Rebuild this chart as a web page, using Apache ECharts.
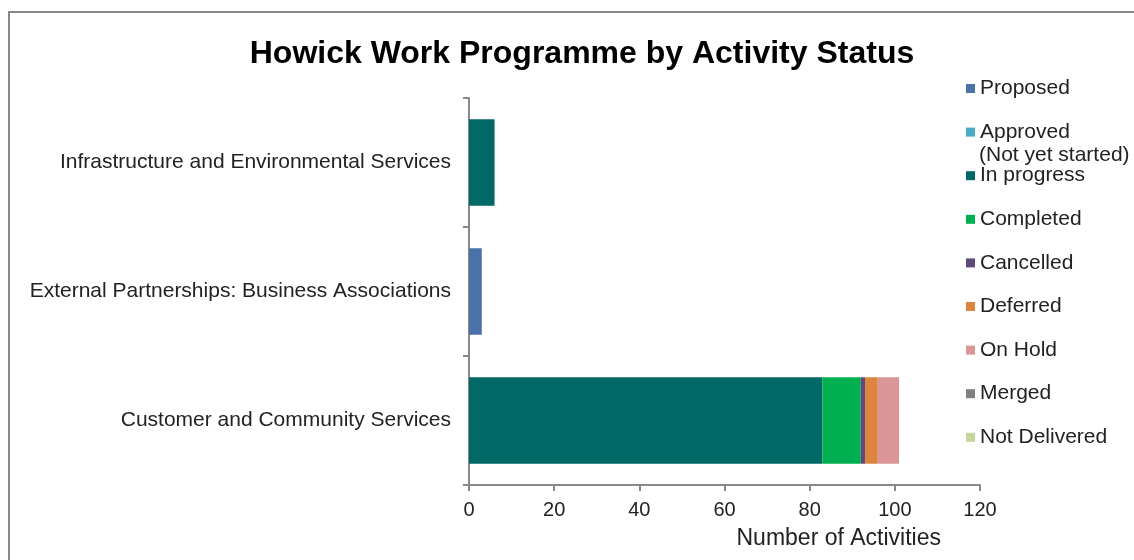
<!DOCTYPE html>
<html>
<head>
<meta charset="utf-8">
<script src="https://cdn.jsdelivr.net/npm/echarts@6/dist/echarts.min.js"></script>
<style>
  html, body { margin: 0; padding: 0; background: #fff; }
  #main { width: 1134px; height: 560px; }
</style>
</head>
<body>
<div id="main"></div>
<script>
// categories, bottom to top (ECharts draws the first category at the bottom)
var categories = [
  'Customer and Community Services',
  'External Partnerships: Business Associations',
  'Infrastructure and Environmental Services'
];

var statusNames = [
  'Proposed', 'Approved (Not yet started)', 'In progress', 'Completed',
  'Cancelled', 'Deferred', 'On Hold', 'Merged', 'Not Delivered'
];
var statusColors = [
  '#4a72a8', '#4bacc6', '#006865', '#00b050',
  '#604a7b', '#dd8440', '#da9694', '#808080', '#c3d69b'
];

var proposed = [0, 3, 0];
var approved = [0, 0, 0];
var inProgress = [83, 0, 6];
var completed = [9, 0, 0];
var cancelled = [1, 0, 0];
var deferred = [3, 0, 0];
var onHold = [5, 0, 0];
var merged = [0, 0, 0];
var notDelivered = [0, 0, 0];

var xTicks = [0, 20, 40, 60, 80, 100, 120];

var values = [proposed, approved, inProgress, completed, cancelled, deferred, onHold, merged, notDelivered];

var chartDom = document.getElementById('main');
var myChart = echarts.init(chartDom);
var option;

var fontFam = 'Liberation Sans, Arial, sans-serif';

// one legend per entry so the two-line "Approved" entry keeps the even spacing
var legends = statusNames.map(function (name, i) {
  return {
    data: [name],
    orient: 'vertical',
    left: 966,
    top: 78 + i * 43.6,
    padding: 0,
    itemWidth: 9,
    itemHeight: 9,
    itemGap: 0,
    icon: 'rect',
    selectedMode: false,
    formatter: function (n) { return n === 'Approved (Not yet started)' ? 'Approved' : n; },
    textStyle: { fontFamily: fontFam, fontSize: 21, color: '#222' }
  };
});

option = {
  animation: false,
  title: {
    text: 'Howick Work Programme by Activity Status',
    left: 577,
    textAlign: 'center',
    top: 33,
    textStyle: { fontFamily: fontFam, fontSize: 32, fontWeight: 'bold', color: '#000' }
  },
  legend: legends,
  graphic: [
    {
      type: 'rect',
      shape: { x: 9, y: 12, width: 1140, height: 560 },
      style: { fill: 'none', stroke: '#888', lineWidth: 2 },
      silent: true
    },
    {
      type: 'text',
      left: 979,
      top: 145,
      style: { text: '(Not yet started)', font: '21px ' + fontFam, fill: '#222' }
    }
  ],
  grid: { left: 469, right: 154, top: 98, bottom: 75 },
  xAxis: {
    type: 'value',
    min: xTicks[0],
    max: xTicks[xTicks.length - 1],
    interval: xTicks[1] - xTicks[0],
    name: 'Number of Activities',
    nameLocation: 'middle',
    nameGap: 42,
    nameTextStyle: { fontFamily: fontFam, fontSize: 23, color: '#222', align: 'left', padding: [0, 0, 0, 12] },
    axisLine: { show: true, lineStyle: { color: '#888', width: 2 } },
    axisTick: { show: true, length: 6, lineStyle: { color: '#888', width: 2 } },
    axisLabel: { fontFamily: fontFam, fontSize: 20, color: '#222', margin: 15 },
    splitLine: { show: false }
  },
  yAxis: {
    type: 'category',
    data: categories,
    axisLine: { show: true, lineStyle: { color: '#888', width: 2 } },
    axisTick: { show: true, length: 6, lineStyle: { color: '#888', width: 2 } },
    axisLabel: { fontFamily: fontFam, fontSize: 21, color: '#222', margin: 18 }
  },
  series: statusNames.map(function (name, i) {
    return {
      name: name,
      type: 'bar',
      stack: 'total',
      barCategoryGap: '33%',
      data: values[i],
      itemStyle: { color: statusColors[i] }
    };
  })
};

option && myChart.setOption(option);
</script>
</body>
</html>
